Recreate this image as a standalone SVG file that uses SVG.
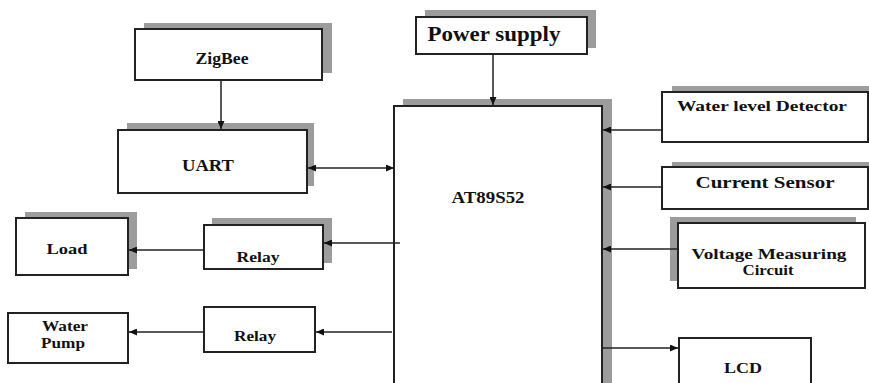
<svg xmlns="http://www.w3.org/2000/svg" width="869" height="383" viewBox="0 0 869 383">
<defs>
<marker id="ah" markerWidth="8" markerHeight="7" refX="8" refY="3.5" orient="auto" markerUnits="userSpaceOnUse">
<path d="M0,0 L8,3.5 L0,7 z" fill="#111"/>
</marker>
<marker id="ahs" markerWidth="8" markerHeight="7" refX="0" refY="3.5" orient="auto" markerUnits="userSpaceOnUse">
<path d="M8,0 L0,3.5 L8,7 z" fill="#111"/>
</marker>
</defs>
<style>
.sh{fill:#9c9c9c;stroke:none}
.bx{fill:#fff;stroke:#222;stroke-width:2}
.t{font-family:"Liberation Serif","Times New Roman",serif;font-weight:bold;fill:#111;text-anchor:middle}
.c{stroke:#222;stroke-width:1.5;fill:none}
</style>
<rect width="869" height="383" fill="#fff"/>

<g id="zigbee">
<rect class="sh" x="144" y="23" width="188" height="50"/>
<rect class="bx" x="135" y="29" width="187" height="51"/>
<text class="t" x="222" y="64" font-size="16" textLength="53" lengthAdjust="spacingAndGlyphs">ZigBee</text>
</g>

<g id="uart">
<rect class="sh" x="127" y="123" width="187" height="63"/>
<rect class="bx" x="118" y="130" width="189" height="63"/>
<text class="t" x="208" y="171" font-size="17" textLength="52" lengthAdjust="spacingAndGlyphs">UART</text>
</g>

<g id="power">
<rect class="sh" x="425" y="10" width="171" height="38"/>
<rect class="bx" x="416" y="17" width="171" height="37"/>
<text class="t" x="494" y="41" font-size="20" textLength="133" lengthAdjust="spacingAndGlyphs">Power supply</text>
</g>

<g id="at89s52">
<rect class="sh" x="403" y="99" width="209" height="300"/>
<rect class="bx" x="394" y="106" width="208" height="300"/>
<text class="t" x="488" y="203" font-size="17" textLength="73" lengthAdjust="spacingAndGlyphs">AT89S52</text>
</g>

<g id="waterlevel">
<rect class="sh" x="672" y="86" width="200" height="50"/>
<rect class="bx" x="662" y="92" width="206" height="50"/>
<text class="t" x="762" y="111" font-size="15" textLength="170" lengthAdjust="spacingAndGlyphs">Water level Detector</text>
</g>

<g id="current">
<rect class="sh" x="672" y="162" width="200" height="40"/>
<rect class="bx" x="662" y="167" width="206" height="42"/>
<text class="t" x="765" y="188" font-size="17" textLength="139" lengthAdjust="spacingAndGlyphs">Current Sensor</text>
</g>

<g id="voltage">
<rect class="sh" x="670" y="217" width="186" height="64"/>
<rect class="bx" x="678" y="223" width="187" height="65"/>
<text class="t" x="769" y="259" font-size="15" textLength="155" lengthAdjust="spacingAndGlyphs">Voltage Measuring</text>
<text class="t" x="768" y="275" font-size="15" textLength="51" lengthAdjust="spacingAndGlyphs">Circuit</text>
</g>

<g id="lcd">
<rect class="bx" x="679" y="338" width="132" height="60"/>
<text class="t" x="743" y="373" font-size="15" textLength="38" lengthAdjust="spacingAndGlyphs">LCD</text>
</g>

<g id="load">
<rect class="sh" x="25" y="212" width="112" height="57"/>
<rect class="bx" x="16" y="218" width="112" height="57"/>
<text class="t" x="67" y="254" font-size="15" textLength="41" lengthAdjust="spacingAndGlyphs">Load</text>
</g>

<g id="relay1">
<rect class="sh" x="212" y="218" width="120" height="45"/>
<rect class="bx" x="204" y="225" width="119" height="44"/>
<text class="t" x="258" y="262" font-size="15" textLength="43" lengthAdjust="spacingAndGlyphs">Relay</text>
</g>

<g id="waterpump">
<rect class="bx" x="8" y="313" width="120" height="50"/>
<text class="t" x="65" y="331" font-size="15" textLength="46" lengthAdjust="spacingAndGlyphs">Water</text>
<text class="t" x="63" y="348" font-size="15" textLength="44" lengthAdjust="spacingAndGlyphs">Pump</text>
</g>

<g id="relay2">
<rect class="bx" x="204" y="307" width="111" height="45"/>
<text class="t" x="255" y="341" font-size="15" textLength="42" lengthAdjust="spacingAndGlyphs">Relay</text>
</g>

<g id="connectors">
<line class="c" x1="221" y1="80" x2="221" y2="129" marker-end="url(#ah)"/>
<line class="c" x1="493" y1="54" x2="493" y2="105" marker-end="url(#ah)"/>
<line class="c" x1="308" y1="168" x2="394" y2="168" marker-start="url(#ahs)" marker-end="url(#ah)"/>
<line class="c" x1="662" y1="130" x2="603" y2="130" marker-end="url(#ah)"/>
<line class="c" x1="662" y1="187" x2="603" y2="187" marker-end="url(#ah)"/>
<line class="c" x1="678" y1="249" x2="603" y2="249" marker-end="url(#ah)"/>
<line class="c" x1="602" y1="348" x2="678" y2="348" marker-end="url(#ah)"/>
<line class="c" x1="400" y1="243" x2="324" y2="243" marker-end="url(#ah)"/>
<line class="c" x1="204" y1="250" x2="129" y2="250" marker-end="url(#ah)"/>
<line class="c" x1="392" y1="332" x2="316" y2="332" marker-end="url(#ah)"/>
<line class="c" x1="204" y1="332" x2="129" y2="332" marker-end="url(#ah)"/>
</g>
</svg>
